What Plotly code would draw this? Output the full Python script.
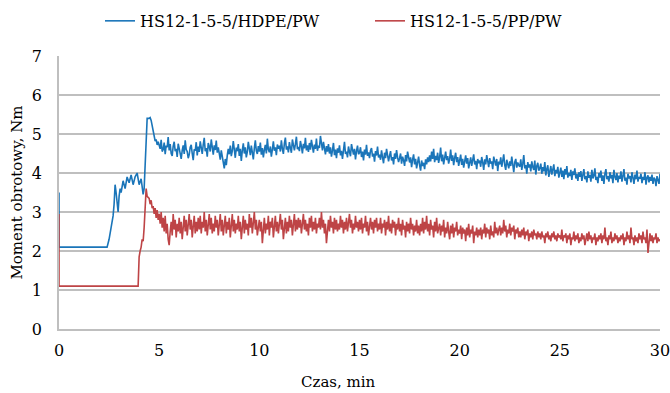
import plotly.graph_objects as go

# --- Data ---
# HS12-1-5-5/HDPE/PW : start-up segment (time in min, torque in Nm)
hdpe_start_t = [0, 0.001, 2.4, 2.5, 2.6, 2.7, 2.75, 2.8, 2.85, 2.9, 2.95, 3.0, 3.05, 3.1, 3.2,
                3.3, 3.4, 3.5, 3.6, 3.7, 3.8, 3.9, 4.0, 4.1, 4.2, 4.25, 4.3, 4.35, 4.4]
hdpe_start_v = [3.5, 2.1, 2.1, 2.3, 2.6, 2.9, 3.2, 3.7, 3.5, 3.3, 3.0, 3.4, 3.6, 3.5, 3.8,
                3.6, 3.9, 3.75, 3.95, 3.7, 3.9, 4.0, 3.7, 3.85, 3.45, 3.6, 4.2, 4.9, 5.4]
# sampled every 0.05 min from 4.5 to 30.0 min
hdpe_sampled_v = [
    5.4, 5.42, 5.35, 5.22, 5.08, 4.92, 4.82, 4.86, 4.72, 4.8,
    4.7, 4.62, 4.85, 4.55, 4.6, 4.78, 4.48, 4.7, 4.66, 4.92,
    4.58, 4.74, 4.5, 4.44, 4.69, 4.8, 4.56, 4.62, 4.41, 4.75,
    4.63, 4.52, 4.36, 4.58, 4.71, 4.49, 4.84, 4.6, 4.55, 4.38,
    4.47, 4.66, 4.72, 4.5, 4.33, 4.61, 4.57, 4.79, 4.45, 4.68,
    4.54, 4.81, 4.6, 4.49, 4.73, 4.9, 4.56, 4.64, 4.42, 4.77,
    4.68, 4.55, 4.86, 4.62, 4.47, 4.71, 4.59, 4.83, 4.52, 4.66,
    4.5, 4.34, 4.58, 4.4, 4.27, 4.12, 4.36, 4.2, 4.45, 4.62,
    4.48, 4.7, 4.43, 4.57, 4.82, 4.51, 4.39, 4.65, 4.56, 4.74,
    4.44, 4.62, 4.31, 4.58, 4.76, 4.5, 4.66, 4.4, 4.54, 4.8,
    4.61, 4.46, 4.7, 4.52, 4.35, 4.63, 4.84, 4.57, 4.49, 4.69,
    4.55, 4.78, 4.47, 4.64, 4.4, 4.59, 4.72, 4.5, 4.88, 4.6,
    4.53, 4.68, 4.42, 4.6, 4.81, 4.57, 4.66, 4.46, 4.73, 4.62,
    4.7, 4.55, 4.84, 4.62, 4.49, 4.76, 4.91, 4.6, 4.68, 4.53,
    4.79, 4.64, 4.52, 4.86, 4.7, 4.58, 4.74, 4.93, 4.61, 4.67,
    4.56, 4.82, 4.69, 4.5, 4.75, 4.63, 4.9, 4.58, 4.71, 4.54,
    4.77, 4.6, 4.85, 4.66, 4.52, 4.73, 4.62, 4.88, 4.57, 4.7,
    4.64, 4.95, 4.72, 4.58, 4.8, 4.6, 4.48, 4.69, 4.55, 4.74,
    4.5, 4.66, 4.42, 4.58, 4.77, 4.46, 4.6, 4.38, 4.63, 4.52,
    4.71, 4.45, 4.57, 4.36, 4.62, 4.8, 4.49, 4.55, 4.4, 4.68,
    4.54, 4.43, 4.74, 4.58, 4.47, 4.62, 4.35, 4.56, 4.7, 4.48,
    4.52, 4.66, 4.41, 4.55, 4.32, 4.6, 4.47, 4.72, 4.44, 4.53,
    4.38, 4.58, 4.64, 4.42, 4.5, 4.29, 4.56, 4.45, 4.68, 4.4,
    4.47, 4.34, 4.58, 4.4, 4.25, 4.52, 4.38, 4.62, 4.43, 4.3,
    4.44, 4.56, 4.32, 4.41, 4.22, 4.5, 4.36, 4.59, 4.4, 4.28,
    4.38, 4.5, 4.24, 4.42, 4.33, 4.18, 4.46, 4.3, 4.55, 4.36,
    4.27, 4.4, 4.15, 4.34, 4.48, 4.22, 4.36, 4.12, 4.3, 4.42,
    4.2, 4.06, 4.32, 4.18, 4.26, 4.1, 4.35, 4.22, 4.4, 4.28,
    4.45, 4.3, 4.55, 4.36, 4.62, 4.28, 4.44, 4.33, 4.52, 4.26,
    4.4, 4.65, 4.3, 4.47, 4.22, 4.38, 4.55, 4.33, 4.43, 4.24,
    4.36, 4.6, 4.31, 4.45, 4.2, 4.39, 4.52, 4.28, 4.41, 4.18,
    4.33, 4.47, 4.21, 4.36, 4.14, 4.3, 4.45, 4.24, 4.38, 4.12,
    4.29, 4.4, 4.18, 4.34, 4.48, 4.22, 4.31, 4.1, 4.36, 4.25,
    4.32, 4.16, 4.41, 4.27, 4.08, 4.35, 4.22, 4.46, 4.26, 4.15,
    4.38, 4.24, 4.3, 4.1, 4.42, 4.26, 4.19, 4.36, 4.05, 4.29,
    4.22, 4.4, 4.16, 4.31, 4.48, 4.2, 4.08, 4.34, 4.25, 4.12,
    4.3, 4.18, 4.42, 4.24, 4.02, 4.28, 4.36, 4.14, 4.27, 4.2,
    4.16, 4.35, 4.08, 4.24, 4.46, 4.12, 4.2, 3.98, 4.28, 4.14,
    4.22, 4.04, 4.3, 4.15, 4.08, 4.32, 3.96, 4.18, 4.26, 4.06,
    4.12, 4.24, 3.98, 4.15, 4.04, 4.28, 3.94, 4.1, 4.2, 3.9,
    4.06, 4.18, 3.96, 4.12, 4.22, 3.92, 4.08, 3.99, 4.16, 3.88,
    4.02, 4.14, 3.9, 4.06, 3.84, 4.1, 3.96, 4.18, 3.88, 4.0,
    3.92, 4.08, 3.82, 4.04, 3.95, 4.12, 3.86, 3.98, 3.8, 4.02,
    3.9, 4.05, 3.8, 3.96, 4.1, 3.84, 3.92, 3.76, 4.04, 3.88,
    3.95, 3.78, 4.08, 3.86, 3.93, 4.12, 3.82, 3.9, 3.74, 4.0,
    3.88, 4.06, 3.8, 3.94, 3.72, 3.98, 4.1, 3.84, 3.92, 3.78,
    4.02, 3.86, 3.95, 3.74, 4.08, 3.9, 3.82, 4.0, 3.76, 3.93,
    3.85, 4.04, 3.78, 3.92, 4.1, 3.8, 3.88, 3.7, 3.98, 3.86,
    3.92, 3.76, 4.02, 3.88, 3.72, 3.96, 3.84, 4.06, 3.78, 3.9,
    3.86, 3.98, 3.74, 3.9, 3.82, 4.02, 3.7, 3.88, 3.94, 3.76,
    3.9, 3.8, 3.96, 3.72, 3.88, 3.84, 3.66, 3.92, 3.78, 3.72,
    3.98,
]

# HS12-1-5-5/PP/PW
pp_start_t = [0, 0.001, 3.95, 4.0, 4.05, 4.1, 4.15, 4.2, 4.25, 4.3, 4.35, 4.4]
pp_start_v = [2.95, 1.1, 1.1, 1.85, 2.0, 2.1, 2.3, 2.25, 2.6, 3.3, 3.6, 3.4]
pp_sampled_v = [
    3.35, 3.2, 3.3, 3.1, 3.15, 2.95, 3.1, 2.85, 3.05, 2.8,
    2.95, 2.7, 3.0, 2.6, 2.85, 2.5, 2.9, 2.45, 2.7, 2.3,
    2.15, 2.5, 2.75, 2.4, 2.95, 2.55, 2.8, 2.35, 2.7, 2.5,
    2.85, 2.45, 2.75, 2.3, 2.65, 2.9, 2.5, 2.8, 2.4, 2.7,
    2.95, 2.55, 2.8, 2.35, 2.65, 2.9, 2.45, 2.75, 2.5, 2.85,
    2.55, 2.9, 2.45, 2.75, 2.6, 3.0, 2.5, 2.8, 2.4, 2.7,
    2.95, 2.55, 2.85, 2.45, 2.7, 2.5, 2.9, 2.6, 2.8, 2.4,
    2.7, 2.95, 2.5, 2.8, 2.4, 2.65, 2.9, 2.45, 2.75, 2.55,
    2.85, 2.35, 2.7, 2.95, 2.5, 2.8, 2.45, 2.7, 2.55, 2.9,
    2.5, 2.75, 2.3, 2.65, 2.9, 2.45, 2.8, 2.55, 2.7, 2.4,
    2.95, 2.6, 2.85, 2.45, 2.7, 3.0, 2.55, 2.8, 2.4, 2.65,
    2.8, 2.5, 2.75, 2.2, 2.6, 2.85, 2.45, 2.7, 2.55, 2.9,
    2.4, 2.75, 2.6, 2.85, 2.35, 2.65, 2.9, 2.5, 2.75, 2.45,
    2.7, 2.95, 2.55, 2.8, 2.3, 2.6, 2.85, 2.45, 2.75, 2.5,
    2.9, 2.6, 2.8, 2.4, 2.7, 2.95, 2.5, 2.8, 2.55, 2.85,
    2.6, 2.8, 2.45, 2.75, 2.95, 2.55, 2.8, 2.5, 2.7, 2.4,
    2.85, 2.6, 2.9, 2.5, 2.75, 2.55, 2.85, 2.45, 2.7, 2.6,
    2.85, 2.55, 3.0, 2.6, 2.8, 2.45, 2.7, 2.2, 2.55, 2.8,
    2.5, 2.9, 2.6, 2.75, 2.45, 2.85, 2.55, 2.8, 2.5, 2.7,
    2.55, 2.9, 2.6, 2.8, 2.45, 2.75, 2.55, 2.85, 2.5, 2.7,
    2.95, 2.6, 2.8, 2.45, 2.7, 2.55, 2.9, 2.6, 2.75, 2.5,
    2.8, 2.55, 2.85, 2.45, 2.7, 2.6, 2.9, 2.5, 2.75, 2.4,
    2.7, 2.85, 2.55, 2.75, 2.45, 2.8, 2.6, 2.85, 2.5, 2.7,
    2.55, 2.85, 2.45, 2.7, 2.6, 2.8, 2.4, 2.75, 2.55, 2.9,
    2.5, 2.7, 2.45, 2.8, 2.6, 2.75, 2.4, 2.7, 2.55, 2.85,
    2.5, 2.7, 2.4, 2.8, 2.55, 2.65, 2.35, 2.75, 2.5, 2.7,
    2.45, 2.85, 2.55, 2.7, 2.4, 2.65, 2.5, 2.8, 2.45, 2.65,
    2.4, 2.7, 2.5, 2.85, 2.45, 2.75, 2.55, 2.9, 2.5, 2.7,
    2.4, 2.8, 2.55, 2.65, 2.35, 2.75, 2.5, 2.85, 2.45, 2.6,
    2.7, 2.4, 2.65, 2.5, 2.8, 2.35, 2.6, 2.45, 2.75, 2.5,
    2.3, 2.65, 2.45, 2.7, 2.35, 2.6, 2.5, 2.75, 2.4, 2.55,
    2.45, 2.65, 2.3, 2.6, 2.45, 2.55, 2.25, 2.6, 2.4, 2.7,
    2.35, 2.55, 2.45, 2.65, 2.2, 2.5, 2.4, 2.6, 2.35, 2.55,
    2.4, 2.6, 2.3, 2.55, 2.45, 2.7, 2.35, 2.6, 2.45, 2.55,
    2.3, 2.65, 2.4, 2.5, 2.35, 2.75, 2.45, 2.6, 2.4, 2.55,
    2.65, 2.4, 2.6, 2.45, 2.8, 2.5, 2.65, 2.35, 2.55, 2.45,
    2.7, 2.4, 2.6, 2.5, 2.65, 2.3, 2.55, 2.45, 2.6, 2.35,
    2.5, 2.35, 2.55, 2.4, 2.6, 2.3, 2.5, 2.4, 2.55, 2.25,
    2.45, 2.35, 2.5, 2.3, 2.55, 2.4, 2.45, 2.3, 2.5, 2.35,
    2.45, 2.3, 2.5, 2.35, 2.4, 2.2, 2.45, 2.35, 2.5, 2.3,
    2.4, 2.25, 2.45, 2.35, 2.5, 2.3, 2.4, 2.25, 2.45, 2.35,
    2.4, 2.3, 2.55, 2.25, 2.4, 2.35, 2.45, 2.2, 2.4, 2.3,
    2.45, 2.15, 2.35, 2.3, 2.5, 2.25, 2.4, 2.3, 2.45, 2.2,
    2.35, 2.25, 2.45, 2.3, 2.4, 2.15, 2.35, 2.45, 2.25, 2.5,
    2.3, 2.4, 2.2, 2.35, 2.3, 2.45, 2.15, 2.35, 2.25, 2.4,
    2.3, 2.45, 2.2, 2.4, 2.3, 2.6, 2.25, 2.35, 2.15, 2.4,
    2.3, 2.5, 2.2, 2.35, 2.25, 2.45, 2.3, 2.4, 2.2, 2.35,
    2.25, 2.4, 2.3, 2.45, 2.15, 2.35, 2.25, 2.5, 2.3, 2.4,
    2.2, 2.6, 2.3, 2.35, 2.15, 2.4, 2.25, 2.35, 2.2, 2.45,
    2.3, 2.4, 2.2, 2.5, 2.3, 2.35, 2.2, 2.55, 1.95, 2.3,
    2.45, 2.25, 2.4, 2.2, 2.35, 2.3, 2.45, 2.2, 2.35, 2.25,
    2.3,
]

sample_start = 4.5
sample_step = 0.05

series_names = ["HS12-1-5-5/HDPE/PW", "HS12-1-5-5/PP/PW"]
x_ticks = [0, 5, 10, 15, 20, 25, 30]
y_ticks = [0, 1, 2, 3, 4, 5, 6, 7]
x_title = "Czas, min"
y_title = "Moment obrotowy, Nm"


def sampled_times(n):
    return [round(sample_start + sample_step * i, 3) for i in range(n)]


hdpe_t = hdpe_start_t + sampled_times(len(hdpe_sampled_v))
hdpe_v = hdpe_start_v + hdpe_sampled_v
pp_t = pp_start_t + sampled_times(len(pp_sampled_v))
pp_v = pp_start_v + pp_sampled_v

FONT = "DejaVu Serif"
BLUE = "#1a75b9"
RED = "#be4446"
GRID = "#bfbfbf"

fig = go.Figure()
fig.add_trace(go.Scatter(x=hdpe_t, y=hdpe_v, mode="lines", name=series_names[0],
                         line=dict(color=BLUE, width=1.6)))
fig.add_trace(go.Scatter(x=pp_t, y=pp_v, mode="lines", name=series_names[1],
                         line=dict(color=RED, width=1.6)))

fig.add_annotation(text=x_title, xref="paper", yref="paper", x=0.465, y=-0.155,
                   xanchor="center", yanchor="top", showarrow=False,
                   font=dict(family=FONT, size=15, color="#000000"))

fig.update_layout(
    width=670, height=393,
    margin=dict(l=59, r=10, t=56, b=64, autoexpand=False),
    paper_bgcolor="white", plot_bgcolor="white",
    font=dict(family=FONT, size=16, color="#000000"),
    showlegend=True,
    legend=dict(orientation="h", xref="container", yref="container",
                x=370 / 670, xanchor="center", y=0.99, yanchor="top",
                font=dict(family=FONT, size=16), itemwidth=30,
                entrywidth=225, entrywidthmode="pixels",
                bgcolor="rgba(0,0,0,0)"),
    xaxis=dict(range=[0, 30], tickvals=x_ticks, showgrid=False, automargin=False,
               showline=True, linecolor=GRID, linewidth=1.5,
               ticks="", ticklabelstandoff=6, zeroline=False,
               ticklabeloverflow="allow"),
    yaxis=dict(range=[0, 7], tickvals=y_ticks, showgrid=True, gridcolor=GRID, gridwidth=1.5,
               showline=True, linecolor=GRID, linewidth=1.5, automargin=False,
               ticks="", ticklabelstandoff=12, zeroline=False,
               title=dict(text=y_title, font=dict(family=FONT, size=15), standoff=6)),
)

fig.write_html("out.html")
